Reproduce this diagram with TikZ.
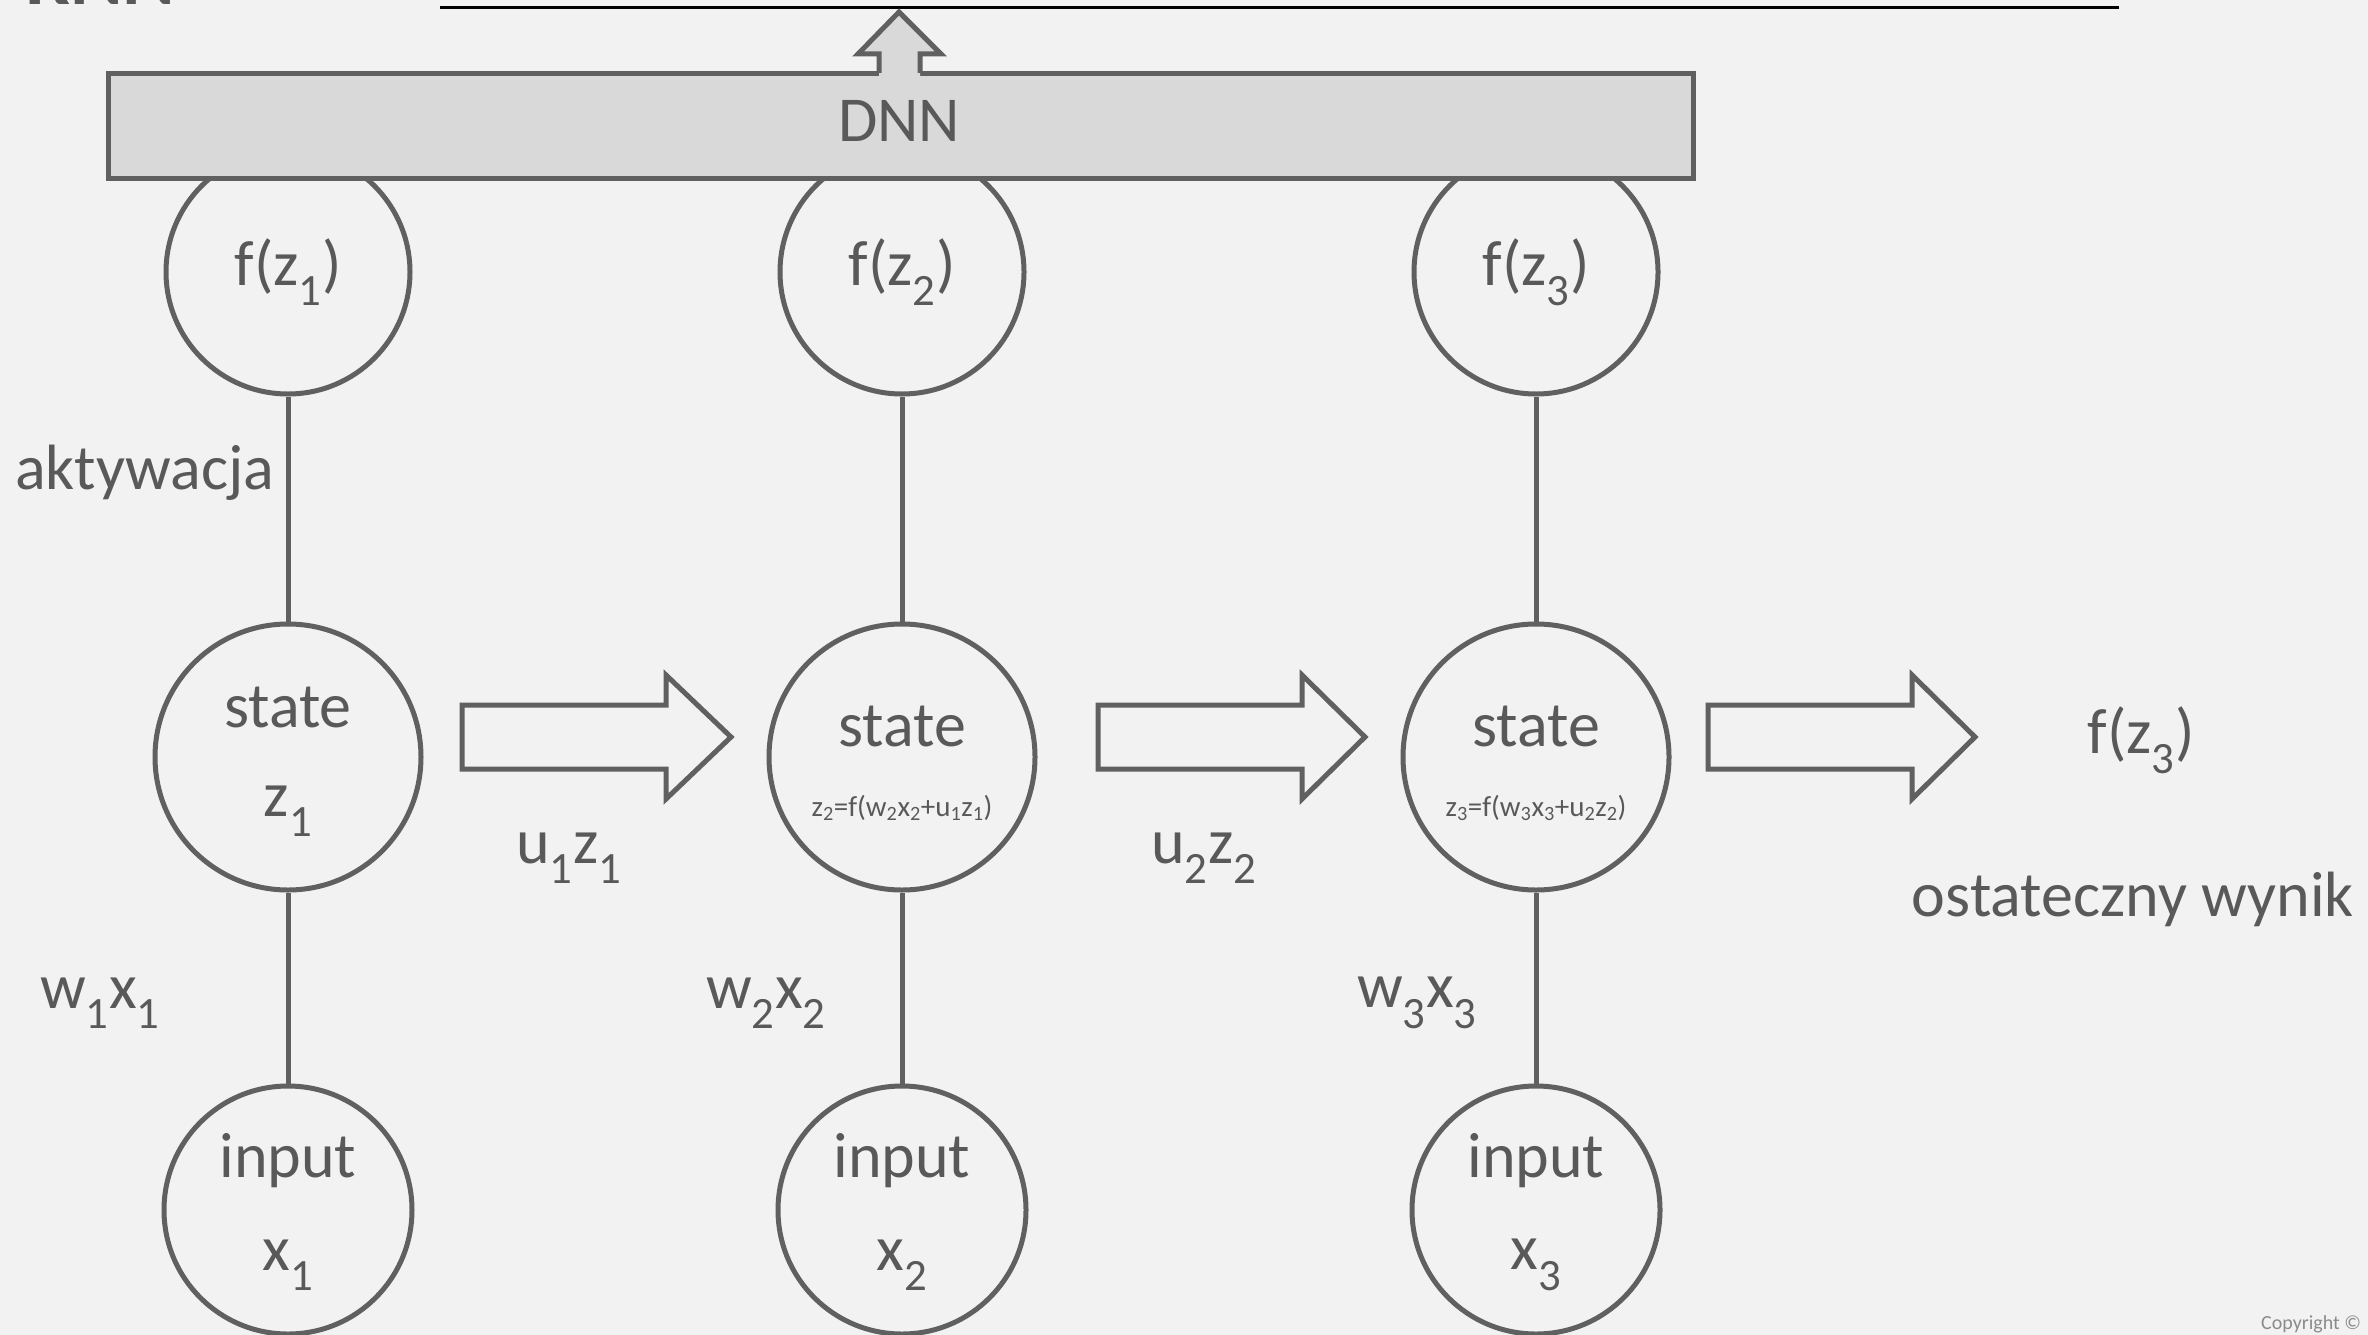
\documentclass[tikz,border=0pt]{standalone}
\usepackage{fontspec}
\setmainfont{Carlito}
\definecolor{bg}{HTML}{F2F2F2}
\definecolor{ink}{HTML}{595959}
\definecolor{edge}{HTML}{606060}
\definecolor{boxfill}{HTML}{D9D9D9}
\begin{document}
\begin{tikzpicture}[x=1pt,y=-1pt,
  every node/.style={text=ink, inner sep=0pt},
  big/.style={font=\fontsize{64}{76}\selectfont},
  tiny/.style={font=\fontsize{29}{35}\selectfont},
  unit/.style={circle, draw=edge, line width=5pt, minimum size=#1},
  link/.style={draw=edge, line width=5pt},
  blockarrow/.style={draw=edge, line width=5pt, line join=miter}]
% canvas
\fill[bg] (0,0) rectangle (2368,1335);
\useasboundingbox (0,0) rectangle (2368,1335);

% title and rule at the top
\node[anchor=base west, text=ink, font=\fontsize{80}{96}\selectfont\bfseries] (title) at (25,5) {RNN};
\draw[black, line width=3pt] (440,8) -- (2119,8);

% activation units
\node[unit=244pt] (f1) at (288,272) {};
\node[unit=244pt] (f2) at (902,272) {};
\node[unit=244pt] (f3) at (1536,272) {};
% state units
\node[unit=266pt] (s1) at (288,757) {};
\node[unit=266pt] (s2) at (902,757) {};
\node[unit=266pt] (s3) at (1536,757) {};
% input units
\node[unit=248pt] (i1) at (288,1210) {};
\node[unit=248pt] (i2) at (902,1210) {};
\node[unit=248pt] (i3) at (1536,1210) {};

% vertical connectors
\draw[link] (f1.south) -- (s1.north);
\draw[link] (f2.south) -- (s2.north);
\draw[link] (f3.south) -- (s3.north);
\draw[link] (s1.south) -- (i1.north);
\draw[link] (s2.south) -- (i2.north);
\draw[link] (s3.south) -- (i3.north);

% DNN layer on top
\node[draw=edge, fill=boxfill, line width=5pt, minimum width=1585pt, minimum height=105pt, anchor=north west] (dnn) at (106,71) {};
\node[big] (dnnlabel) at (899,121) {DNN};
% output arrow leaving the DNN layer
\fill[boxfill] (879,76) -- (879,54) -- (858,54) -- (899,12) -- (941,54) -- (920,54) -- (920,76) -- cycle;
\draw[draw=edge, line width=5pt, line join=miter] (879,73) -- (879,54) -- (858,54) -- (899,12) -- (941,54) -- (920,54) -- (920,73);

% block arrows between states
\draw[blockarrow] (462,705) -- (666,705) -- (666,675) -- (731,737) -- (666,799) -- (666,769) -- (462,769) -- cycle;
\draw[blockarrow] (1098,705) -- (1302,705) -- (1302,675) -- (1365,737) -- (1302,799) -- (1302,769) -- (1098,769) -- cycle;
\draw[blockarrow] (1708,705) -- (1912,705) -- (1912,675) -- (1975,737) -- (1912,799) -- (1912,769) -- (1708,769) -- cycle;

% texts inside the units
\node[big] (tf1) at (288,272) {f(z\textsubscript{1})};
\node[big] (tf2) at (902,272) {f(z\textsubscript{2})};
\node[big] (tf3) at (1536,272) {f(z\textsubscript{3})};
\node[big] (ts1) at (288,707) {state};
\node[big] (tz1) at (288,811) {z\textsubscript{1}};
\node[big] (ts2) at (902,726) {state};
\node[tiny] (tz2) at (902,808) {z\textsubscript{2}=f(w\textsubscript{2}x\textsubscript{2}+u\textsubscript{1}z\textsubscript{1})};
\node[big] (ts3) at (1536,726) {state};
\node[tiny] (tz3) at (1536,808) {z\textsubscript{3}=f(w\textsubscript{3}x\textsubscript{3}+u\textsubscript{2}z\textsubscript{2})};
\node[big] (ti1) at (288,1161) {input};
\node[big] (tx1) at (288,1265) {x\textsubscript{1}};
\node[big] (ti2) at (902,1161) {input};
\node[big] (tx2) at (902,1265) {x\textsubscript{2}};
\node[big] (ti3) at (1536,1161) {input};
\node[big] (tx3) at (1536,1265) {x\textsubscript{3}};

% labels beside the connectors
\node[big, anchor=west] (akt) at (15,473) {aktywacja};
\node[big] (u1) at (569,858) {u\textsubscript{1}z\textsubscript{1}};
\node[big] (u2) at (1204,858) {u\textsubscript{2}z\textsubscript{2}};
\node[big] (w1) at (100,1003) {w\textsubscript{1}x\textsubscript{1}};
\node[big] (w2) at (766,1003) {w\textsubscript{2}x\textsubscript{2}};
\node[big] (w3) at (1417,1003) {w\textsubscript{3}x\textsubscript{3}};

% final result
\node[big] (out) at (2141,740) {f(z\textsubscript{3})};
\node[big] (outlabel) at (2133,899) {ostateczny wynik};

\node[anchor=west, text=ink!70, font=\fontsize{20}{24}\selectfont] (copy) at (2261,1324) {Copyright ©};
\end{tikzpicture}
\end{document}
